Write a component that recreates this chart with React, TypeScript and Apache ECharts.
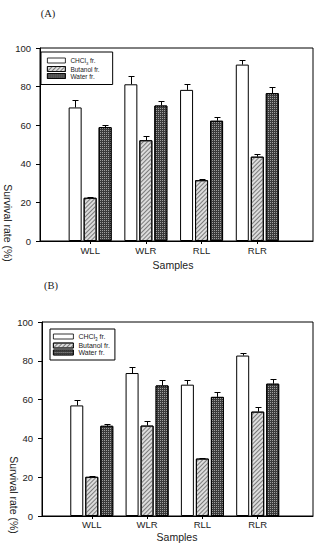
import React, { useEffect, useRef } from "react";
import * as echarts from "echarts";

const samples = ["WLL", "WLR", "RLL", "RLR"];
const samplePos = [1, 2, 3, 4];
const seriesNames = ["CHCl3 fr.", "Butanol fr.", "Water fr."];
const yTicks = [0, 20, 40, 60, 80, 100];

// Panel A
const aChcl = [69.2, 81.2, 78.3, 91.4];
const aChclErr = [3.8, 4.5, 2.8, 2.6];
const aButanol = [22.4, 52.2, 31.5, 43.7];
const aButanolErr = [0.3, 2.0, 0.6, 1.2];
const aWater = [59.0, 70.2, 62.3, 76.6];
const aWaterErr = [0.9, 2.1, 2.2, 3.1];

// Panel B
const bChcl = [57.0, 73.7, 67.7, 82.7];
const bChclErr = [2.6, 3.1, 2.6, 1.5];
const bButanol = [20.2, 46.6, 29.6, 53.8];
const bButanolErr = [0.4, 2.5, 0.5, 2.5];
const bWater = [46.5, 67.3, 61.4, 68.2];
const bWaterErr = [1.1, 2.8, 2.4, 2.5];

const FONT = "Liberation Sans";
const SERIF = "Liberation Serif";

const BAR_W = 13;
const OFFSETS = [-15, 0, 15];

const styles = [
  { color: "#ffffff", borderColor: "#000", borderWidth: 1 },
  {
    color: "#dcdcdc",
    borderColor: "#000",
    borderWidth: 1,
    decal: {
      symbol: "rect",
      symbolSize: 1,
      color: "#7a7a7a",
      dashArrayX: [1, 0],
      dashArrayY: [1, 2],
      rotation: -Math.PI / 4,
    },
  },
  {
    color: "#3a3a3a",
    borderColor: "#000",
    borderWidth: 1,
    decal: {
      symbol: "rect",
      symbolSize: 1,
      color: "rgba(190,190,190,0.75)",
      dashArrayX: [1, 1],
      dashArrayY: [1, 1],
      rotation: 0,
    },
  },
];

function pairs(vals: number[]) {
  return vals.map((v, i) => [samplePos[i], v]);
}
function triples(vals: number[], errs: number[]) {
  return vals.map((v, i) => [samplePos[i], v, errs[i]]);
}

function errSeries(name: string, idx: number, vals: number[], errs: number[], off: number) {
  return {
    type: "custom",
    name,
    xAxisIndex: idx,
    yAxisIndex: idx,
    z: 5,
    encode: { x: 0, y: 1 },
    data: triples(vals, errs),
    renderItem: (params: any, api: any) => {
      const x = api.value(0);
      const y = api.value(1);
      const e = api.value(2);
      const base = api.coord([x, y]);
      const top = api.coord([x, y + e]);
      const cx = Math.round(base[0] + off) + 0.5;
      const ty = Math.round(top[1]) + 0.5;
      return {
        type: "group",
        children: [
          { type: "line", shape: { x1: cx, y1: base[1], x2: cx, y2: ty }, style: { stroke: "#000", lineWidth: 1 } },
          { type: "line", shape: { x1: cx - 3, y1: ty, x2: cx + 3, y2: ty }, style: { stroke: "#000", lineWidth: 1 } },
        ],
      };
    },
  };
}

function barSeries(name: string, idx: number, vals: number[], k: number) {
  return {
    type: "bar",
    name,
    xAxisIndex: idx,
    yAxisIndex: idx,
    barWidth: BAR_W,
    barGap: "15.4%",
    itemStyle: styles[k],
    data: pairs(vals),
  };
}

function legendFormatter(name: string) {
  if (name === "CHCl3 fr.") return "{n|CHCl}{s|3}{n| fr.}";
  return "{n|" + name + "}";
}

export default function App() {
  const ref = useRef<HTMLDivElement>(null);
  useEffect(() => {
    if (!ref.current) return;
    const chart = echarts.init(ref.current, undefined, { renderer: "svg" });

    const makeX = (gridIndex: number, margin: number) => ({
      type: "value",
      gridIndex,
      min: 0.1,
      max: 5,
      axisLine: { show: true, lineStyle: { color: "#000", width: 1 } },
      axisTick: { show: true, length: 3, customValues: samplePos, lineStyle: { color: "#000" } },
      axisLabel: {
        show: true,
        customValues: samplePos,
        formatter: (v: number) => samples[Math.round(v) - 1] ?? "",
        fontFamily: FONT,
        fontSize: 9.5,
        color: "#222",
        margin,
      },
      splitLine: { show: false },
    });
    const makeY = (gridIndex: number) => ({
      type: "value",
      gridIndex,
      min: yTicks[0],
      max: yTicks[yTicks.length - 1],
      interval: 20,
      axisLine: { show: true, lineStyle: { color: "#000", width: 1 } },
      axisTick: { show: true, inside: false, length: 4, lineStyle: { color: "#000" } },
      axisLabel: { fontFamily: FONT, fontSize: 9.5, color: "#222", margin: 9 },
      splitLine: { show: false },
    });

    const legendBase = (left: number, top: number, iw: number, lh: number, fs: number, pad: number[], gap: number) => ({
      orient: "vertical",
      left,
      top,
      data: seriesNames,
      icon: "rect",
      itemWidth: iw,
      itemHeight: 5,
      itemGap: 0,
      itemTextGap: gap,
      padding: pad,
      borderColor: "#000",
      borderWidth: 1,
      backgroundColor: "#fff",
      selectedMode: false,
      itemStyle: { borderColor: "#000", borderWidth: 0.8 },
      formatter: legendFormatter,
      textStyle: {
        fontFamily: FONT,
        color: "#222",
        rich: {
          n: { fontFamily: FONT, fontSize: fs, lineHeight: lh, color: "#222" },
          s: { fontFamily: FONT, fontSize: fs * 0.65, lineHeight: lh, color: "#222", verticalAlign: "bottom", padding: [3, 0, 0, 0] },
        },
      },
    });

    const option: any = {
      animation: false,
      backgroundColor: "#fff",
      grid: [
        { left: 40, top: 48, width: 273, height: 193, show: true, borderColor: "#000", borderWidth: 1, backgroundColor: "transparent" },
        { left: 42, top: 322, width: 271, height: 194, show: true, borderColor: "#000", borderWidth: 1, backgroundColor: "transparent" },
      ],
      xAxis: [makeX(0, 4), makeX(1, 3)],
      yAxis: [makeY(0), makeY(1)],
      legend: [
        legendBase(41, 52, 18, 10, 6.5, [5, 13, 5, 6], 4),
        legendBase(50, 329, 20, 11, 7, [4, 5, 4, 3], 5),
      ],
      series: [
        barSeries(seriesNames[0], 0, aChcl, 0),
        barSeries(seriesNames[1], 0, aButanol, 1),
        barSeries(seriesNames[2], 0, aWater, 2),
        barSeries(seriesNames[0], 1, bChcl, 0),
        barSeries(seriesNames[1], 1, bButanol, 1),
        barSeries(seriesNames[2], 1, bWater, 2),
        errSeries("errA0", 0, aChcl, aChclErr, OFFSETS[0]),
        errSeries("errA1", 0, aButanol, aButanolErr, OFFSETS[1]),
        errSeries("errA2", 0, aWater, aWaterErr, OFFSETS[2]),
        errSeries("errB0", 1, bChcl, bChclErr, OFFSETS[0]),
        errSeries("errB1", 1, bButanol, bButanolErr, OFFSETS[1]),
        errSeries("errB2", 1, bWater, bWaterErr, OFFSETS[2]),
      ],
      graphic: [
        { type: "text", x: 48, y: 13, style: { text: "(A)", font: `10.5px "${SERIF}"`, fill: "#222", align: "center", verticalAlign: "middle" } },
        { type: "text", x: 51, y: 285, style: { text: "(B)", font: `10.5px "${SERIF}"`, fill: "#222", align: "center", verticalAlign: "middle" } },
        { type: "text", x: 173, y: 265, style: { text: "Samples", font: `10.5px "${FONT}"`, fill: "#222", align: "center", verticalAlign: "middle" } },
        { type: "text", x: 177, y: 537, style: { text: "Samples", font: `10.5px "${FONT}"`, fill: "#222", align: "center", verticalAlign: "middle" } },
        { type: "text", x: 8, y: 223, rotation: -Math.PI / 2, style: { text: "Survival rate (%)", font: `10.5px "${FONT}"`, fill: "#222", align: "center", verticalAlign: "middle" } },
        { type: "text", x: 14, y: 495, rotation: -Math.PI / 2, style: { text: "Survival rate (%)", font: `10.5px "${FONT}"`, fill: "#222", align: "center", verticalAlign: "middle" } },
      ],
    };
    chart.setOption(option);
    return () => chart.dispose();
  }, []);
  return <div ref={ref} style={{ position: "absolute", left: 0, top: 0, width: 323, height: 544 }} />;
}
